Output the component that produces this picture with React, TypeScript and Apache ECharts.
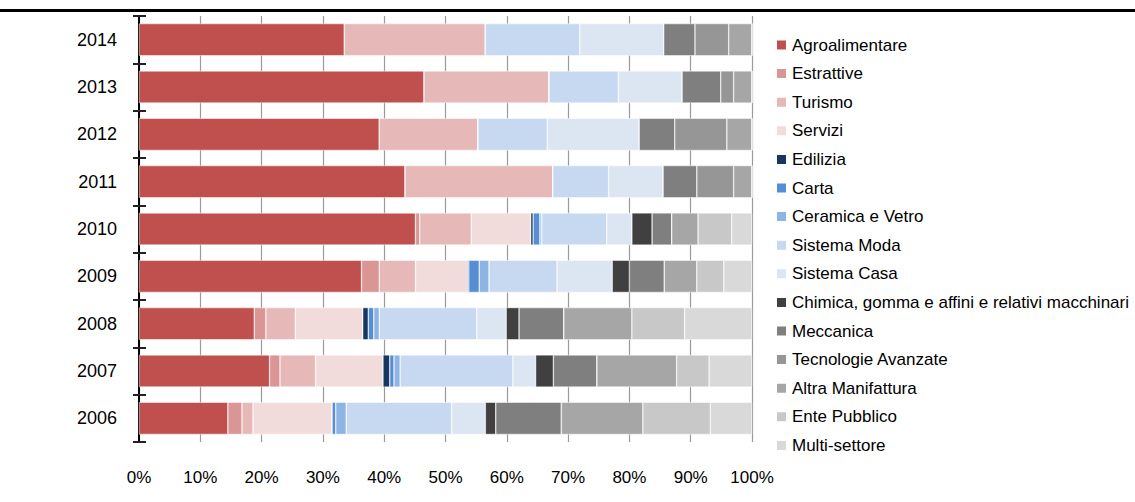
import React, { useEffect, useRef } from "react";
import * as echarts from "echarts";

const years = ["2006", "2007", "2008", "2009", "2010", "2011", "2012", "2013", "2014"];
const xTicks = [0, 10, 20, 30, 40, 50, 60, 70, 80, 90, 100];

const agroalimentare = [14.5, 21.3, 18.8, 36.3, 45.1, 43.4, 39.2, 46.5, 33.5];
const estrattive = [2.3, 1.7, 1.9, 2.9, 0.7, 0, 0, 0, 0];
const turismo = [1.8, 5.8, 4.8, 5.9, 8.4, 24.1, 16.1, 20.4, 23.0];
const servizi = [12.9, 11.0, 11.0, 8.5, 9.7, 0, 0, 0, 0];
const edilizia = [0, 1.1, 0.9, 0.2, 0.4, 0, 0, 0, 0];
const carta = [0.6, 0.7, 0.9, 1.7, 1.1, 0, 0, 0, 0];
const ceramicaVetro = [1.7, 1.0, 0.9, 1.6, 0.3, 0, 0, 0, 0];
const sistemaModa = [17.2, 18.4, 15.9, 11.1, 10.6, 9.1, 11.3, 11.3, 15.4];
const sistemaCasa = [5.5, 3.7, 4.8, 9.0, 4.1, 8.9, 15.0, 10.4, 13.7];
const chimica = [1.7, 2.9, 2.1, 2.8, 3.3, 0, 0, 0, 0];
const meccanica = [10.7, 7.1, 7.3, 5.7, 3.2, 5.5, 5.8, 6.3, 5.1];
const tecnologieAvanzate = [0, 0, 0, 0, 0, 6.0, 8.5, 2.1, 5.5];
const altraManifattura = [13.3, 13.0, 11.1, 5.3, 4.3, 3.0, 4.1, 3.0, 3.8];
const entePubblico = [11.0, 5.3, 8.6, 4.4, 5.5, 0, 0, 0, 0];
const multiSettore = [6.8, 7.0, 11.0, 4.6, 3.3, 0, 0, 0, 0];

const seriesDefs: [string, number[], string][] = [
  ["Agroalimentare", agroalimentare, "#c0504d"],
  ["Estrattive", estrattive, "#d99694"],
  ["Turismo", turismo, "#e6b9b8"],
  ["Servizi", servizi, "#f2dcdb"],
  ["Edilizia", edilizia, "#17375e"],
  ["Carta", carta, "#558ed5"],
  ["Ceramica e Vetro", ceramicaVetro, "#8eb4e3"],
  ["Sistema Moda", sistemaModa, "#c6d9f1"],
  ["Sistema Casa", sistemaCasa, "#dce6f2"],
  ["Chimica, gomma e affini e relativi macchinari", chimica, "#404040"],
  ["Meccanica", meccanica, "#7f7f7f"],
  ["Tecnologie Avanzate", tecnologieAvanzate, "#969696"],
  ["Altra Manifattura", altraManifattura, "#a6a6a6"],
  ["Ente Pubblico", entePubblico, "#c8c8c8"],
  ["Multi-settore", multiSettore, "#d9d9d9"],
];

const FONT = "'Liberation Sans Narrow', 'Arial Narrow', 'Liberation Sans', Arial, sans-serif";

export default function App() {
  const ref = useRef<HTMLDivElement>(null);
  useEffect(() => {
    if (!ref.current) return;
    const chart = echarts.init(ref.current, null, { renderer: "svg" });
    chart.setOption({
      animation: false,
      backgroundColor: "#ffffff",
      textStyle: { fontFamily: FONT },
      grid: { left: 139, right: 383, top: 16, bottom: 60, containLabel: false },
      graphic: [
        { type: "rect", left: 0, top: 9, shape: { x: 0, y: 0, width: 1135, height: 3 }, style: { fill: "#000" } },
      ],
      legend: {
        orient: "vertical",
        left: 770,
        top: 30,
        itemWidth: 11,
        itemHeight: 11,
        itemGap: 8.6,
        icon: "rect",
        textStyle: { fontFamily: FONT, fontSize: 17, lineHeight: 20, color: "#000" },
        data: seriesDefs.map((s) => s[0]),
      },
      xAxis: {
        type: "value",
        min: 0,
        max: 100,
        interval: 10,
        axisLine: { show: false },
        axisTick: { show: false },
        axisLabel: {
          formatter: (v: number) => (xTicks.includes(v) ? v + "%" : ""),
          fontFamily: FONT,
          fontSize: 17,
          lineHeight: 20,
          color: "#000",
          margin: 25,
        },
        splitLine: { show: true, lineStyle: { color: "#9a9a9a", width: 1.2 } },
      },
      yAxis: [
        {
          type: "category",
          data: years,
          axisLine: { show: true, lineStyle: { color: "#000", width: 2 } },
          axisTick: { show: true, length: 6, lineStyle: { color: "#222", width: 2 } },
          axisLabel: { fontFamily: FONT, fontSize: 18, color: "#000", margin: 22 },
          splitLine: { show: false },
        },
        {
          type: "category",
          data: years,
          position: "left",
          axisLine: { show: false },
          axisTick: { show: true, inside: true, length: 7, lineStyle: { color: "#222", width: 2 } },
          axisLabel: { show: false },
          splitLine: { show: false },
        },
      ],
      series: seriesDefs.map(([name, data, color]) => ({
        name,
        type: "bar",
        stack: "total",
        yAxisIndex: 0,
        data,
        barCategoryGap: "32%",
        itemStyle: { color, borderColor: "#ffffff", borderWidth: 0.5 },
      })),
    });
    return () => chart.dispose();
  }, []);
  return (
    <div
      ref={ref}
      style={{ position: "fixed", left: 0, top: 0, width: 1135, height: 502, background: "#fff" }}
    />
  );
}
